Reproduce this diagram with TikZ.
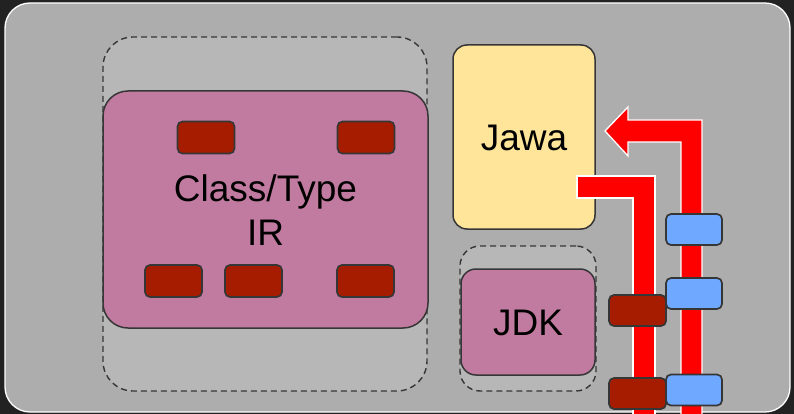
\documentclass[tikz,border=0pt]{standalone}
\usepackage{fontspec}
\setmainfont{Liberation Sans}
\begin{document}
\begin{tikzpicture}[x=1pt,y=-1pt,
  box/.style={draw=strokegray,line width=1.5pt,rounded corners=#1,inner sep=0pt},
  grp/.style={draw=strokegray,dashed,dash pattern=on 6pt off 4pt,line width=1.4pt,fill=grpgray,rounded corners=#1,inner sep=0pt},
  chip/.style={box=5pt,line width=1.7pt,minimum width=57pt,minimum height=32pt},
  redchip/.style={chip,fill=chipred},
  bluechip/.style={chip,fill=chipblue,minimum width=56pt,minimum height=31pt},
  bigtext/.style={font=\fontsize{37}{44}\selectfont,align=center,text=black},
  arrowshape/.style={fill=red,draw=white,line width=1.3pt,line join=miter}
]
\definecolor{bgdark}{HTML}{222222}
\definecolor{maingray}{HTML}{ADADAD}
\definecolor{grpgray}{HTML}{B7B7B7}
\definecolor{strokegray}{HTML}{363636}
\definecolor{pink}{HTML}{C27BA0}
\definecolor{chipred}{HTML}{A61C00}
\definecolor{chipblue}{HTML}{6FA8FF}
\definecolor{jawa}{HTML}{FFE599}
\useasboundingbox (0,0) rectangle (794,414);
\clip (0,0) rectangle (794,414);
\fill[bgdark] (0,0) rectangle (794,414);
\node[draw=white,line width=1.3pt,fill=maingray,rounded corners=25pt,minimum width=785pt,minimum height=409pt,inner sep=0pt] (frame) at (397.5,207.5) {};
% left group
\node[grp=30pt,minimum width=324pt,minimum height=354pt] (g1) at (265,214) {};
\node[box=25pt,fill=pink,minimum width=325pt,minimum height=237pt] (ir) at (265.5,209.5) {};
\node[bigtext] (irtext) at (265.5,210) {Class/Type\\IR};
\node[redchip] (c1) at (206,137.5) {};
\node[redchip] (c2) at (366,137.5) {};
\node[redchip] (c3) at (173.5,281) {};
\node[redchip] (c4) at (253.5,281) {};
\node[redchip] (c5) at (365.5,281) {};
% Jawa
\node[box=14pt,fill=jawa,minimum width=142pt,minimum height=184pt] (jawa) at (524,137) {};
\node[bigtext] (jawatext) at (524,138) {Jawa};
% JDK
\node[grp=20pt,minimum width=136pt,minimum height=145pt] (g2) at (528,318.5) {};
\node[box=15pt,fill=pink,minimum width=134pt,minimum height=106pt] (jdk) at (528,322) {};
\node[bigtext] (jdktext) at (528,323) {JDK};
% arrows
\coordinate (a1tip) at (605,131);
\draw[arrowshape] (702,420) -- (702,120) -- (628,120) -- (628,107) -- (a1tip) -- (628,156) -- (628,142) -- (681,142) -- (681,420) -- cycle;
\coordinate (a2start) at (577,176);
\draw[arrowshape] (a2start) -- (655,176) -- (655,420) -- (633,420) -- (633,198) -- (577,198) -- cycle;
% chips on arrows
\node[bluechip] (b1) at (694,229.5) {};
\node[bluechip] (b2) at (694,293.5) {};
\node[bluechip] (b3) at (694,390) {};
\node[redchip,minimum height=31pt] (d1) at (637.5,310.5) {};
\node[redchip,minimum height=31pt] (d2) at (637.5,393.5) {};
\end{tikzpicture}
\end{document}
